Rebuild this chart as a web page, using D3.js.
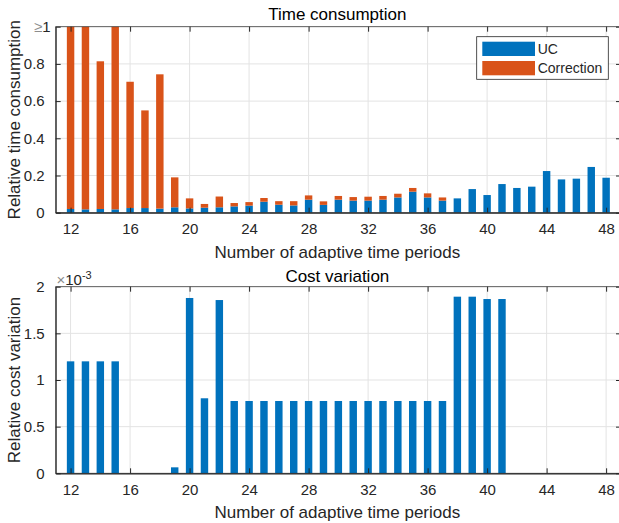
<!DOCTYPE html>
<html>
<head>
<meta charset="utf-8">
<script src="https://cdn.jsdelivr.net/npm/d3@7"></script>
<style>
  html, body { margin: 0; padding: 0; background: #fff; }
  svg { display: block; font-family: "Liberation Sans", Arial, sans-serif; }
</style>
</head>
<body>
<svg id="chart" width="619" height="523"></svg>
<script>
// ---------------- data ----------------
const periods = [12,13,14,15,16,17,18,19,20,21,22,23,24,25,26,27,28,29,30,31,32,33,34,35,36,37,38,39,40,41,42,43,44,45,46,47,48];
const ucTime = [0.020,0.018,0.020,0.018,0.025,0.025,0.022,0.029,0.023,0.027,0.029,0.034,0.038,0.059,0.043,0.039,0.070,0.042,0.070,0.065,0.065,0.070,0.082,0.113,0.082,0.065,0.077,0.127,0.095,0.154,0.133,0.140,0.224,0.179,0.183,0.246,0.188];
const correctionTime = [1.30,1.25,0.794,1.10,0.679,0.525,0.722,0.161,0.054,0.020,0.058,0.018,0.019,0.020,0.019,0.023,0.023,0.019,0.020,0.019,0.021,0.020,0.020,0.020,0.022,0.017,0,0,0,0,0,0,0,0,0,0,0];
const costVariation = [1.20,1.20,1.20,1.20,0,0,0,0.064,1.879,0.804,1.857,0.775,0.775,0.775,0.775,0.775,0.775,0.775,0.775,0.775,0.775,0.775,0.775,0.775,0.775,0.775,1.893,1.893,1.868,1.868,0,0,0,0,0,0,0];
const xTicks = [12,16,20,24,28,32,36,40,44,48];
const yTicksTime = [0,0.2,0.4,0.6,0.8,1];
const yTicksCost = [0,0.5,1,1.5,2];
const seriesNames = ["UC","Correction"];
const colors = ["#0072BD","#D95319"];

// ---------------- layout ----------------
const svg = d3.select("#chart");
const left = 55.7, right = 621;
const textColor = "#262626";
const axisColor = "#262626";
const gridColor = "#e3e3e3";

const x = d3.scaleLinear().domain([11,49]).range([left,right]);
const barW = x(11.5) - x(11);

function drawPanel(opts) {
  const g = svg.append("g");
  const y = opts.y;
  const [y0, y1] = y.range();
  const clipId = "clip" + opts.id;
  svg.append("defs").append("clipPath").attr("id", clipId)
    .append("rect").attr("x", left).attr("y", y1).attr("width", right-left).attr("height", y0-y1);

  // grid
  g.selectAll(".gx").data(xTicks).join("line")
    .attr("x1", d=>x(d)).attr("x2", d=>x(d)).attr("y1", y0).attr("y2", y1)
    .attr("stroke", gridColor).attr("stroke-width", 1);
  g.selectAll(".gy").data(opts.yTicks).join("line")
    .attr("x1", left).attr("x2", right).attr("y1", d=>y(d)).attr("y2", d=>y(d))
    .attr("stroke", gridColor).attr("stroke-width", 1);

  // bars
  const bars = g.append("g").attr("clip-path", `url(#${clipId})`);
  opts.drawBars(bars, y);

  // box
  g.append("rect").attr("x", left).attr("y", y1).attr("width", right-left).attr("height", y0-y1)
    .attr("fill","none").attr("stroke", axisColor).attr("stroke-width", 0.8).attr("stroke-opacity",0.85);

  // axes with inward ticks
  const xAxisB = d3.axisBottom(x).tickValues(xTicks).tickSizeInner(-5).tickSizeOuter(0).tickPadding(11);
  const gx = g.append("g").attr("transform", `translate(0,${y0})`).call(xAxisB);
  gx.select(".domain").attr("stroke", axisColor).attr("stroke-width", 1.2);
  gx.selectAll(".tick line").attr("stroke", axisColor);
  gx.selectAll("text").attr("fill", textColor).attr("font-size", 15).attr("font-family","Liberation Sans, Arial, sans-serif");
  const xAxisT = d3.axisTop(x).tickValues(xTicks).tickSizeInner(-5).tickSizeOuter(0).tickFormat("");
  const gxt = g.append("g").attr("transform", `translate(0,${y1})`).call(xAxisT);
  gxt.select(".domain").remove();
  gxt.selectAll(".tick line").attr("stroke", axisColor);

  const yAxisL = d3.axisLeft(y).tickValues(opts.yTicks).tickSizeInner(-5).tickSizeOuter(0).tickPadding(11)
    .tickFormat(opts.yFormat);
  const gy = g.append("g").attr("transform", `translate(${left},0)`).call(yAxisL);
  gy.select(".domain").attr("stroke", axisColor).attr("stroke-width", 1);
  gy.selectAll(".tick line").attr("stroke", axisColor);
  gy.selectAll("text").attr("fill", textColor).attr("font-size", 15).attr("font-family","Liberation Sans, Arial, sans-serif");
  const yAxisR = d3.axisRight(y).tickValues(opts.yTicks).tickSizeInner(-5).tickSizeOuter(0).tickFormat("");
  const gyr = g.append("g").attr("transform", `translate(${right},0)`).call(yAxisR);
  gyr.select(".domain").remove();
  gyr.selectAll(".tick line").attr("stroke", axisColor);

  // title
  g.append("text").attr("x", (left+right)/2 - 1).attr("y", opts.titleY)
    .attr("text-anchor","middle").attr("font-size", 17).attr("fill","#000").text(opts.title);
  // x label
  g.append("text").attr("x", (left+right)/2 - 1).attr("y", opts.xLabelY)
    .attr("text-anchor","middle").attr("font-size", 17).attr("fill", textColor).text("Number of adaptive time periods");
  // y label
  g.append("text").attr("transform", `translate(19.5,${(y0+y1)/2}) rotate(-90)`)
    .attr("text-anchor","middle").attr("font-size", 17).attr("fill", textColor).text(opts.yLabel);
  return {g, gy};
}

// ---------------- top panel ----------------
const yTop = d3.scaleLinear().domain([0,1]).range([212.7, 26.7]);
const stacked = periods.map((p,i)=>({p, uc: ucTime[i], corr: correctionTime[i]}));
const topPanel = drawPanel({
  id: "top", y: yTop, yTicks: yTicksTime,
  yFormat: d => d === 1 ? "" : (d === 0 ? "0" : d3.format(".1f")(d)),
  title: "Time consumption", titleY: 20, xLabelY: 257.5,
  yLabel: "Relative time consumption",
  drawBars: (g, y) => {
    g.selectAll(".uc").data(stacked).join("rect")
      .attr("x", d=>x(d.p)-barW/2).attr("width", barW)
      .attr("y", d=>y(d.uc)).attr("height", d=>y(0)-y(d.uc))
      .attr("fill", colors[0]);
    g.selectAll(".corr").data(stacked.filter(d=>d.corr>0)).join("rect")
      .attr("x", d=>x(d.p)-barW/2).attr("width", barW)
      .attr("y", d=>y(d.uc+d.corr)).attr("height", d=>y(d.uc)-y(d.uc+d.corr))
      .attr("fill", colors[1]);
  }
});
// "≥1" label at the top tick
const geq = topPanel.g.append("text").attr("x", 50.5).attr("y", yTop(1)+5.5)
  .attr("text-anchor","end").attr("font-size", 15).attr("fill", textColor);
geq.append("tspan").attr("fill","#8c8c8c").text("≥");
geq.append("tspan").text("1");

// legend
const lg = topPanel.g.append("g");
lg.append("rect").attr("x", 476.7).attr("y", 36.7).attr("width", 131.6).attr("height", 42.6)
  .attr("fill","#fff").attr("stroke","#262626").attr("stroke-width",0.8);
seriesNames.forEach((name,i)=>{
  lg.append("rect").attr("x", 482.3).attr("y", 41.7 + i*19.3).attr("width", 52.7).attr("height", 14.3)
    .attr("fill", colors[i]);
  lg.append("text").attr("x", 537.7).attr("y", 54 + i*19.3).attr("font-size", 14)
    .attr("fill", textColor).text(name);
});

// ---------------- bottom panel ----------------
const yBot = d3.scaleLinear().domain([0,2]).range([473.3, 286.7]);
const costData = periods.map((p,i)=>({p, v: costVariation[i]}));
const botPanel = drawPanel({
  id: "bot", y: yBot, yTicks: yTicksCost,
  yFormat: d => d3.format("")(d),
  title: "Cost variation", titleY: 281.5, xLabelY: 517.5,
  yLabel: "Relative cost variation",
  drawBars: (g, y) => {
    g.selectAll(".cost").data(costData.filter(d=>d.v>0)).join("rect")
      .attr("x", d=>x(d.p)-barW/2).attr("width", barW)
      .attr("y", d=>y(d.v)).attr("height", d=>y(0)-y(d.v))
      .attr("fill", colors[0]);
  }
});
// exponent label
const ex = botPanel.g.append("text").attr("x", 56.5).attr("y", 284.5).attr("font-size", 15).attr("fill", textColor);
ex.append("tspan").attr("fill","#8c8c8c").text("×");
ex.append("tspan").text("10");
ex.append("tspan").attr("font-size", 11).attr("dy", -6).text("-3");
</script>
</body>
</html>
